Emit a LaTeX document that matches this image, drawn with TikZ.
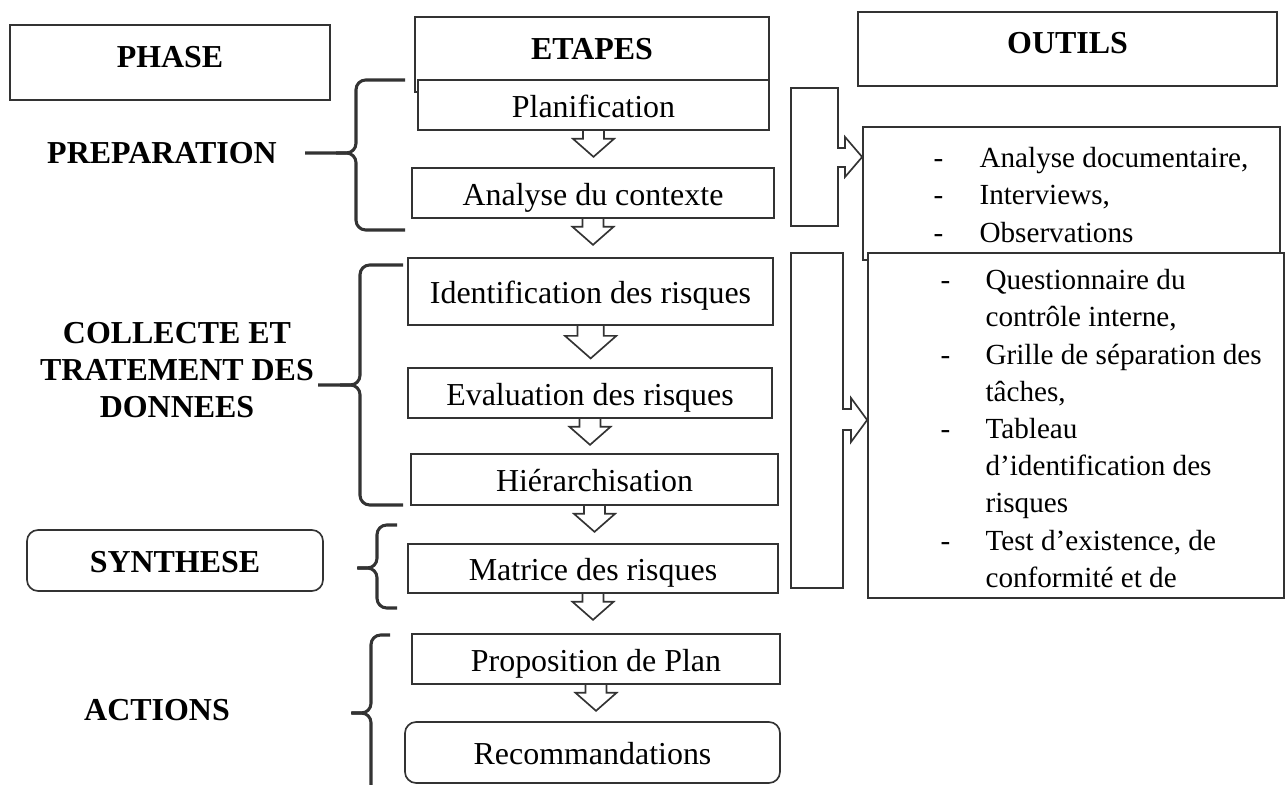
\documentclass[tikz,border=0pt]{standalone}
\usepackage{fontspec}
\setmainfont{Liberation Serif}

\newlength\pxl
\setlength\pxl{0.36pt}

\tikzset{
  cadre/.style={draw=black!80, line width=0.6pt, fill=white, inner sep=0pt},
  etape/.style={cadre, font=\fontsize{11.5}{13.3}\selectfont, text height=9pt, text depth=0pt},
  entete/.style={cadre, font=\fontsize{11.5}{13.3}\selectfont\bfseries, text height=8.6pt, text depth=5pt},
  phase/.style={font=\fontsize{11.5}{13.3}\selectfont\bfseries, align=center},
  liste/.style={font=\fontsize{10.5}{13.4}\selectfont, inner sep=0pt, anchor=north west},
  accolade/.style={draw=black!80, line width=1.1pt, rounded corners=3.5pt},
  creux/.style={draw=black!80, line width=0.6pt, line join=miter},
}

% fleche creuse sous une etape
\newcommand\flechebas[2][1]{%
  \draw[creux, scale=#1] (#2.south) ++(-10.5,0) -- ++(0,8) -- ++(-10,0)
    -- ++(20.5,18) -- ++(20.5,-18) -- ++(-10,0) -- ++(0,-8);}

% accolade : bout, dos, pointe, haut, milieu, bas
\newcommand\accolade[6]{%
  \draw[accolade] (#1,#4) -- (#2,#4) -- (#2,#5) -- (#3,#5);
  \draw[accolade] (#2-20,#5) -- (#2,#5) -- (#2,#6) -- (#1,#6);}

\begin{document}
\begin{tikzpicture}[x=\pxl, y=-\pxl]
  \useasboundingbox (0,0) rectangle (1285,785);

  \node[entete, minimum width=320*\pxl, minimum height=75*\pxl] (phase) at (170,62.5) {PHASE};
  \node[entete, minimum width=354*\pxl, minimum height=75*\pxl] (etapes) at (592,54.5) {ETAPES};
  \node[entete, minimum width=419*\pxl, minimum height=74*\pxl] (outils) at (1067.5,49) {OUTILS};

  \node[etape, minimum width=351*\pxl, minimum height=50*\pxl] (planif) at (593.5,105) {Planification};
  \node[etape, minimum width=362*\pxl, minimum height=50*\pxl] (contexte) at (593,193) {Analyse du contexte};
  \node[etape, minimum width=365*\pxl, minimum height=67*\pxl] (identif) at (590.5,291.5) {Identification des risques};
  \node[etape, minimum width=364*\pxl, minimum height=50*\pxl] (evaluation) at (590,393) {Evaluation des risques};
  \node[etape, minimum width=367*\pxl, minimum height=51*\pxl] (hierarchie) at (594.5,479.5) {Hiérarchisation};
  \node[etape, minimum width=370*\pxl, minimum height=49*\pxl] (matrice) at (593,568.5) {Matrice des risques};
  \node[etape, minimum width=368*\pxl, minimum height=50*\pxl] (proposition) at (596,659) {Proposition de Plan};
  \node[etape, rounded corners=4pt, minimum width=375*\pxl, minimum height=61*\pxl] (recommandations) at (592.5,752.5) {Recommandations};

  \flechebas{planif}
  \flechebas{contexte}
  \flechebas[1.25]{identif}
  \flechebas{evaluation}
  \flechebas{hierarchie}
  \flechebas{matrice}
  \flechebas{proposition}

  \node[phase] (preparation) at (162,153) {PREPARATION};
  \node[phase] (collecte) at (177,370) {COLLECTE ET\\TRATEMENT DES\\DONNEES};
  \node[etape, rounded corners=4pt, font=\fontsize{11.5}{13.3}\selectfont\bfseries,
        minimum width=296*\pxl, minimum height=61*\pxl] (synthese) at (175,560.5) {SYNTHESE};
  \node[phase] (actions) at (157,710) {ACTIONS};

  \accolade{405}{356}{305}{80}{153}{230}
  \accolade{403}{360}{318}{265}{385}{505}
  \accolade{397}{377}{358}{525}{568}{608}
  \draw[accolade] (390,635) -- (371,635) -- (371,713) -- (352,713);
  \draw[accolade] (351,713) -- (371,713) -- (371,790);

  \node[cadre, minimum width=417*\pxl, minimum height=133*\pxl] (docs) at (1071.5,193.5) {};
  \node[cadre, minimum width=416*\pxl, minimum height=345*\pxl] (questionnaire) at (1076,425.5) {};

  \draw[cadre] (791,88) -- (838,88) -- (838,148) -- (845,148) -- (845,137)
    -- (docs.west |- 0,157) -- (845,177) -- (845,167) -- (838,167) -- (838,226) -- (791,226) -- cycle;
  \draw[cadre] (791,253) -- (843,253) -- (843,409) -- (851,409) -- (851,398)
    -- (questionnaire.west |- 0,420) -- (851,442) -- (851,430) -- (843,430) -- (843,588) -- (791,588) -- cycle;

  \node[liste] (docsliste) at (933,141) {\begin{tabular}{@{}p{46\pxl}@{}l@{}}
    - & Analyse documentaire,\\
    - & Interviews,\\
    - & Observations
  \end{tabular}};
  \node[liste] (questliste) at (940,263) {\begin{tabular}{@{}p{45\pxl}@{}l@{}}
    - & Questionnaire du\\
      & contrôle interne,\\
    - & Grille de séparation des\\
      & tâches,\\
    - & Tableau\\
      & d’identification des\\
      & risques\\
    - & Test d’existence, de\\
      & conformité et de
  \end{tabular}};
\end{tikzpicture}
\end{document}
